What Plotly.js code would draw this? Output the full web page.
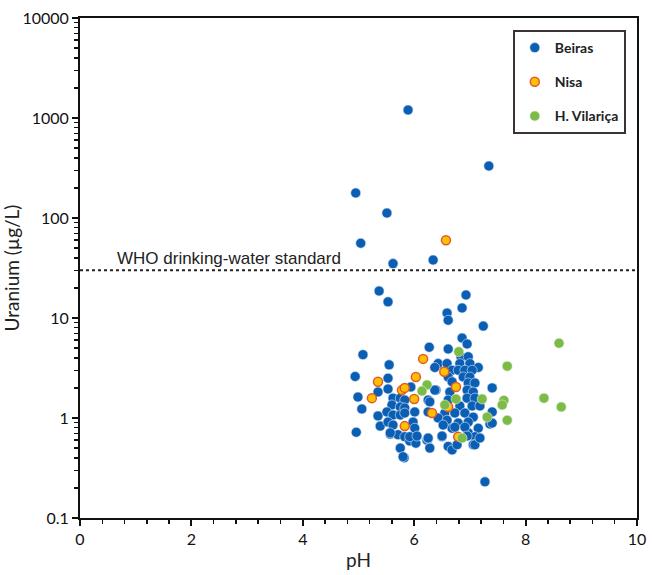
<!DOCTYPE html>
<html>
<head>
<meta charset="utf-8">
<script src="https://cdn.plot.ly/plotly-3.0.1.min.js"></script>
<style>html,body{margin:0;padding:0;background:#fff;}#chart{width:653px;height:575px;}</style>
</head>
<body>
<div id="chart"></div>
<script>
// Beiras (blue)
const beirasPH = [5.89,7.34,4.95,5.51,5.04,5.62,6.34,5.37,5.53,6.93,6.86,6.59,6.61,7.24,6.86,6.95,6.27,6.61,
  4.94,4.99,5.08,4.96,5.06,5.55,5.53,5.53,5.35,5.62,5.75,5.83,5.60,5.75,5.83,5.35,5.51,5.62,5.75,5.83,6.01,5.39,5.53,5.62,5.98,6.01,5.57,5.71,5.83,5.92,6.03,5.75,5.82,5.94,6.25,6.25,6.23,5.57,5.92,6.05,6.25,6.28,6.39,5.80,
  6.84,6.97,6.43,6.37,6.59,6.82,7.00,7.15,6.68,6.79,6.91,7.04,6.88,7.00,6.61,6.68,6.97,7.09,7.40,6.95,7.06,6.64,6.37,6.28,6.61,6.95,7.09,6.82,7.04,7.18,6.55,6.73,6.91,7.06,7.40,6.43,6.59,6.79,6.97,7.15,7.36,6.68,6.97,7.09,6.25,6.50,7.06,6.61,6.50,6.52,6.73,6.91,6.68,6.77,7.09,7.18,7.27,7.40,6.95];
const beirasU = [1202,331,178,112,56,35,38,18.6,14.5,17,12.6,11.2,9.5,8.3,6.3,5.5,5.1,4.9,
  2.6,1.62,4.3,0.72,1.23,3.4,2.5,1.95,1.82,1.58,1.58,1.51,1.35,1.29,1.26,1.05,1.15,1.07,1.07,1.12,1.15,0.83,0.91,0.85,0.91,0.79,0.69,0.68,0.65,0.59,0.56,0.5,0.40,2.04,1.51,1.15,0.6,0.71,0.65,0.66,0.62,0.5,1.9,0.41,
  4.1,4.1,3.5,3.2,3.5,3.5,3.5,3.2,3.0,3.0,3.0,3.0,2.57,2.57,2.57,2.3,2.24,2.24,2.0,1.9,1.82,1.82,1.9,1.45,1.51,1.58,1.58,1.32,1.32,1.32,1.12,1.12,1.12,1.02,1.15,1.0,0.95,0.89,0.91,0.79,0.87,0.79,0.71,0.65,0.63,0.65,0.54,0.52,0.66,0.85,0.81,0.81,0.48,0.54,0.54,0.63,0.23,0.89,0.66];
// Nisa (orange)
const nisaPH = [6.57,6.16,6.54,5.35,6.03,5.78,5.83,6.75,5.24,6.00,6.61,6.32,5.83,6.79];
const nisaU  = [60,3.9,2.9,2.3,2.57,1.9,2.0,2.04,1.58,1.55,1.29,1.12,0.83,0.65];
// H. Vilariça (green)
const vilPH = [6.80,8.60,7.67,7.61,7.58,8.33,8.64,7.67,6.23,6.14,6.75,7.22,6.55,7.31,6.86];
const vilU  = [4.6,5.6,3.3,1.5,1.35,1.58,1.29,0.95,2.14,1.86,1.55,1.55,1.35,1.02,0.63];

const whoLimit = 30;
const whoLabel = 'WHO drinking-water standard';
const yTicks = [0.1,1,10,100,1000,10000];
const yTickText = ['0.1','1','10','100','1000','10000'];

const fam = 'Lato, "Open Sans", sans-serif';
const tickFont = {family:fam, size:16, color:'#111'};

const traces = [
  {x:beirasPH, y:beirasU, name:'Beiras', type:'scatter', mode:'markers', legendgroup:'a',
   marker:{color:'#0a5fb4', size:10, line:{width:0.6, color:'#dfe9f5'}}},
  {x:nisaPH, y:nisaU, name:'Nisa', type:'scatter', mode:'markers', legendgroup:'b',
   marker:{color:'#ffc000', size:9, line:{width:1.5, color:'#e05a2b'}}},
  {x:vilPH, y:vilU, name:'H. Vilariça', type:'scatter', mode:'markers', legendgroup:'c',
   marker:{color:'#7cbb48', size:10, line:{width:0.6, color:'#e6f2dc'}}}
];

const layout = {
  width:653, height:575,
  margin:{l:80, r:16, t:18, b:57},
  paper_bgcolor:'#fff', plot_bgcolor:'#fff',
  showlegend:true,
  legend:{x:0.777, y:0.976, xanchor:'left', yanchor:'top', bgcolor:'#fff',
    bordercolor:'#3a3330', borderwidth:2, tracegroupgap:13, traceorder:'grouped',
    font:{family:fam, size:14, color:'#222', weight:'bold'}},
  xaxis:{range:[0,10], dtick:2, tick0:0, showgrid:false, zeroline:false,
    showline:true, linecolor:'#111', linewidth:2, mirror:true,
    ticks:'outside', ticklen:6, tickwidth:2, tickcolor:'#111',
    minor:{dtick:0.4, ticks:'outside', ticklen:4, tickwidth:1.5, tickcolor:'#111'},
    tickfont:tickFont,
    title:{text:'pH', font:{family:fam, size:19, color:'#222'}, standoff:6}},
  yaxis:{type:'log', range:[-1,4], tickvals:yTicks, ticktext:yTickText, showgrid:false, zeroline:false,
    showline:true, linecolor:'#111', linewidth:2, mirror:true,
    ticks:'outside', ticklen:6, tickwidth:2, tickcolor:'#111',
    minor:{dtick:'D1', ticks:'outside', ticklen:4, tickwidth:1.5, tickcolor:'#111'},
    tickfont:tickFont,
    title:{text:'Uranium (µg/L)', font:{family:fam, size:19, color:'#222'}, standoff:2}},
  shapes:[{type:'line', xref:'paper', x0:0, x1:1, yref:'y', y0:whoLimit, y1:whoLimit,
    line:{color:'#222', width:2, dash:'dot'}}],
  annotations:[{xref:'x', yref:'y', x:0.62, y:Math.log10(whoLimit), xanchor:'left', yanchor:'bottom',
    yshift:0, text:whoLabel, showarrow:false,
    font:{family:'"Liberation Sans", Arial, sans-serif', size:17, color:'#222'}}]
};

Plotly.newPlot('chart', traces, layout, {displayModeBar:false, staticPlot:true});
</script>
</body>
</html>
